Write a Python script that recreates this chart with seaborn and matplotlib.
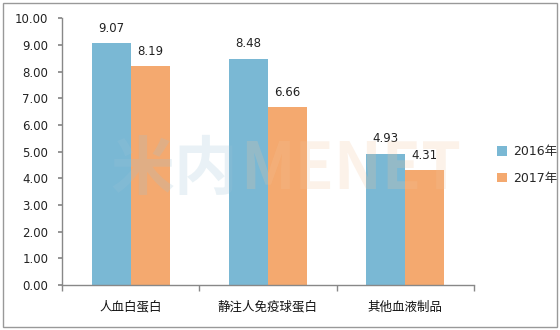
import matplotlib
matplotlib.use("Agg")
import matplotlib.pyplot as plt
import seaborn as sns
import pandas as pd
from matplotlib.patches import Rectangle

categories = ["人血白蛋白", "静注人免疫球蛋白", "其他血液制品"]
series = ["2016年", "2017年"]
values_2016 = [9.07, 8.48, 4.93]
values_2017 = [8.19, 6.66, 4.31]
yticks = [0, 1, 2, 3, 4, 5, 6, 7, 8, 9, 10]

df = pd.DataFrame({
    "cat": categories * 2,
    "year": [series[0]] * 3 + [series[1]] * 3,
    "val": values_2016 + values_2017,
})

sns.set_theme(style="white")
plt.rcParams["font.family"] = ["DejaVu Sans", "Noto Sans CJK SC"]

fig = plt.figure(figsize=(5.6, 3.3), dpi=100)
ax = fig.add_axes([0.111, 0.136, 0.735, 0.809])

colors = ["#7ab8d4", "#f4a96f"]
sns.barplot(data=df, x="cat", y="val", hue="year", palette=colors,
            width=0.57, gap=0, saturation=1, ax=ax, legend=True, linewidth=0)

for c in ax.containers:
    ax.bar_label(c, fmt="%.2f", padding=6, fontsize=8.5, color="#222222")

ax.set_ylim(0, 10)
ax.set_yticks(yticks)
ax.set_yticklabels([f"{v:.2f}" for v in yticks], fontsize=8.5, color="#222222")
ax.set_xlim(-0.5, 2.5)
ax.set_xticks([0, 1, 2])
ax.set_xticklabels(categories, fontsize=9, color="#111111")
ax.tick_params(axis="x", which="major", length=0, pad=11)
ax.set_xticks([-0.5, 0.5, 1.5, 2.5], minor=True)
ax.tick_params(axis="x", which="minor", length=4, color="#888888", bottom=True)
ax.tick_params(axis="y", length=3, color="#888888", left=True, pad=7)
ax.set_xlabel("")
ax.set_ylabel("")
for s in ["top", "right"]:
    ax.spines[s].set_visible(False)
for s in ["left", "bottom"]:
    ax.spines[s].set_color("#888888")
    ax.spines[s].set_linewidth(1)

# faint watermark
wm_font = ["Noto Sans CJK SC", "DejaVu Sans"]
fig.text(110 / 560, 1 - 170 / 330, "米内", fontsize=46, fontweight="bold",
         color="#9cc3d6", alpha=0.22, ha="left", va="center",
         family=wm_font, zorder=5)
fig.text(240 / 560, 1 - 170 / 330, "MENET", fontsize=46, fontweight="bold",
         color="#f2c49c", alpha=0.22, ha="left", va="center",
         family=wm_font, zorder=5)

leg = ax.legend(loc="center left", bbox_to_anchor=(1.03, 0.45), frameon=False,
                fontsize=9, handlelength=0.8, handleheight=0.8,
                labelspacing=1.1, handletextpad=0.5)

fig.patches.append(Rectangle((0.005, 0.008), 0.99, 0.984, transform=fig.transFigure,
                             fill=False, edgecolor="#999999", linewidth=1))

fig.savefig("out.png", dpi=100)
